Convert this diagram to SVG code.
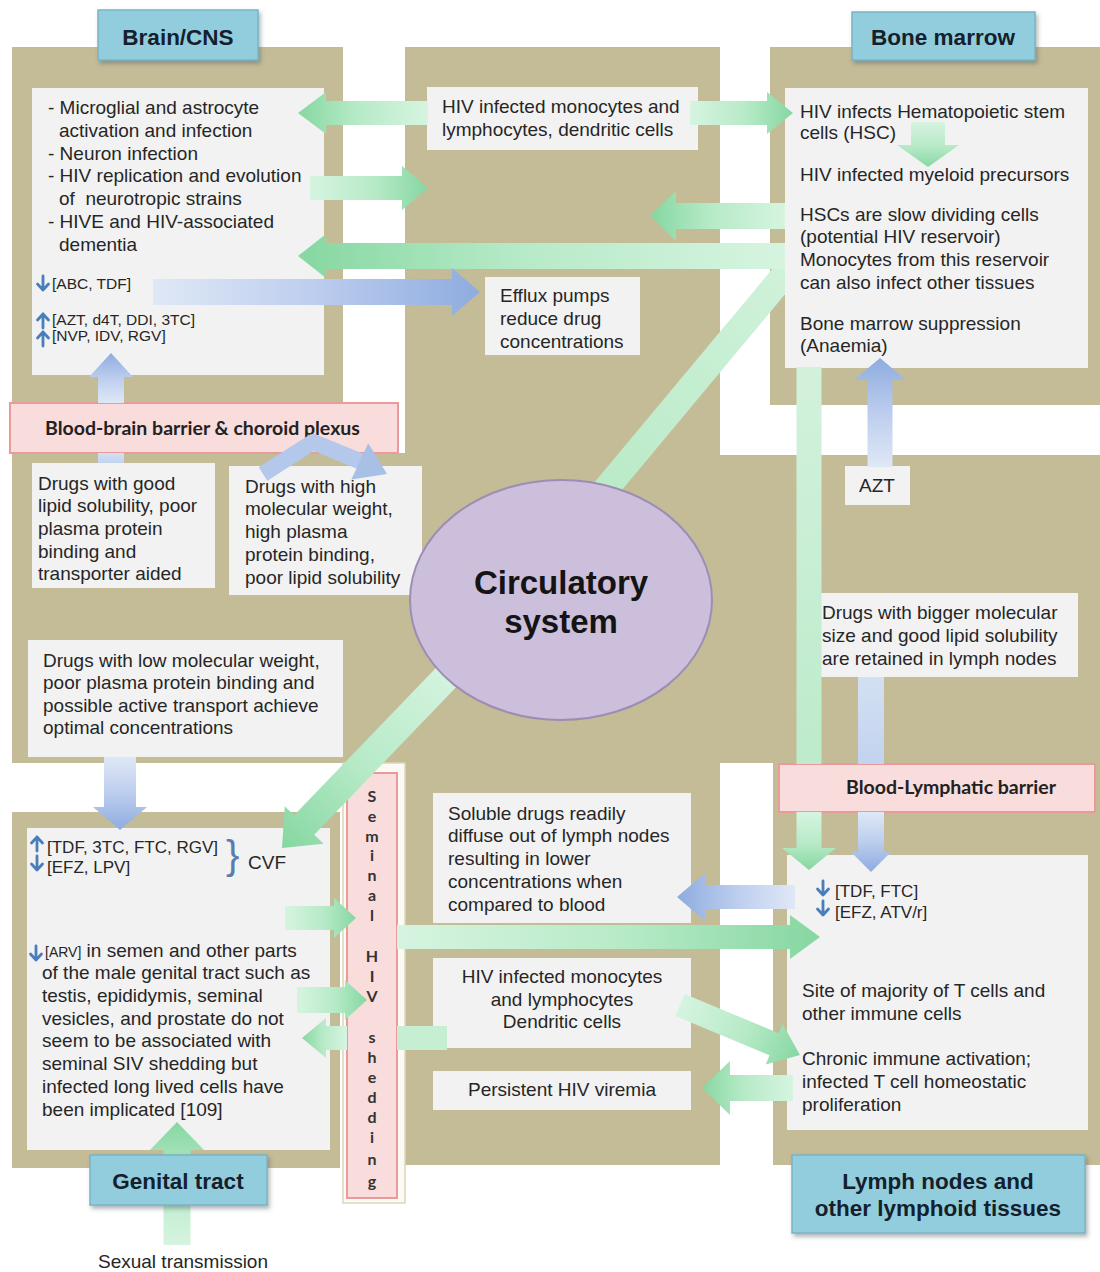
<svg xmlns="http://www.w3.org/2000/svg" width="1100" height="1272" viewBox="0 0 1100 1272">
<defs>
<style>
.panel{fill:#c4bc96}
.box{fill:#f2f2f2}
.t{font-family:"Liberation Sans",Arial,sans-serif;font-size:19px;fill:#262626}
.ts{font-size:15.5px}
.tm{font-size:17px}
.tc{text-anchor:middle}
.lblr{fill:#92cddd;stroke:#78b4c6;stroke-width:1.5;filter:url(#sh)}
.lt{font-family:"Liberation Sans",Arial,sans-serif;font-weight:bold;font-size:22.5px;fill:#14202b;text-anchor:middle}
.bar{fill:#f9dcdc;stroke:#ea9a9a;stroke-width:2}
.bt{font-family:Lato,"Open Sans",sans-serif;font-weight:bold;font-size:19.5px;fill:#222}
.st{font-family:Lato,"Open Sans",sans-serif;font-weight:bold;font-size:16px;fill:#333;text-anchor:middle}
.ga{fill:url(#gG)}
.ba{fill:url(#gB)}
.gv{fill:url(#gGv)}
.bv{fill:url(#gBv)}
.ico{fill:none;stroke:#4a7ebb;stroke-width:2.8;stroke-linecap:round;stroke-linejoin:round}
</style>
<filter id="sh" x="-10%" y="-10%" width="125%" height="140%"><feDropShadow dx="2" dy="3" stdDeviation="2" flood-color="#4a5a60" flood-opacity="0.45"/></filter>
<linearGradient id="gG" x1="0" y1="0" x2="1" y2="0"><stop offset="0" stop-color="#d6f4e0"/><stop offset="0.55" stop-color="#b6eac7"/><stop offset="1" stop-color="#86d7a1"/></linearGradient>
<linearGradient id="gB" x1="0" y1="0" x2="1" y2="0"><stop offset="0" stop-color="#dfe8f6"/><stop offset="0.5" stop-color="#bccdee"/><stop offset="1" stop-color="#8eacdf"/></linearGradient>
<linearGradient id="gGv" x1="0" y1="0" x2="0" y2="1"><stop offset="0" stop-color="#d2f1dc"/><stop offset="1" stop-color="#bdebcb"/></linearGradient>
<linearGradient id="gBv" x1="0" y1="0" x2="0" y2="1"><stop offset="0" stop-color="#d3e0f3"/><stop offset="1" stop-color="#c3d3ee"/></linearGradient>
<linearGradient id="g6" x1="0" y1="1" x2="1" y2="0"><stop offset="0" stop-color="#b5e9c4"/><stop offset="1" stop-color="#d0f2da"/></linearGradient>
<path id="icoDown" class="ico" d="M7,1 V15 M1.5,9 L7,15 L12.5,9"/>
<path id="icoUp" class="ico" d="M7,15 V1 M1.5,7 L7,1 L12.5,7"/>
</defs>
<rect width="1100" height="1272" fill="#ffffff"/>
<g id="panels">
<path class="panel" d="M12,47 H343 V453 H405 V47 H720 V455 H1100 V763 H720 V1165 H405 V763 H12 Z"/>
<rect class="panel" x="770" y="47" width="330" height="358"/>
<rect class="panel" x="773" y="763" width="327" height="402"/>
<rect class="panel" x="12" y="812" width="328" height="356"/>
<rect x="343" y="763" width="62" height="440" fill="#fbfaf5" stroke="#ddd6b8" stroke-width="1.5"/>
</g>
<g id="brain">
<rect class="box" x="32" y="88" width="292" height="287"/>
<text class="t" x="48" y="114">- Microglial and astrocyte</text>
<text class="t" x="59" y="137">activation and infection</text>
<text class="t" x="48" y="160">- Neuron infection</text>
<text class="t" x="48" y="182">- HIV replication and evolution</text>
<text class="t" x="59" y="205">of&#160; neurotropic strains</text>
<text class="t" x="48" y="228">- HIVE and HIV-associated</text>
<text class="t" x="59" y="251">dementia</text>
<use href="#icoDown" x="36" y="275"/>
<text class="t ts" x="52" y="289">[ABC, TDF]</text>
<use href="#icoUp" x="36" y="313"/>
<text class="t ts" x="52" y="325">[AZT, d4T, DDI, 3TC]</text>
<use href="#icoUp" x="36" y="331"/>
<text class="t ts" x="52" y="341">[NVP, IDV, RGV]</text>
</g>
<g id="bone-marrow">
<rect class="box" x="785" y="88" width="303" height="280"/>
<text class="t" x="800" y="118">HIV infects Hematopoietic stem</text>
<text class="t" x="800" y="139">cells (HSC)</text>
<text class="t" x="800" y="181">HIV infected myeloid precursors</text>
<text class="t" x="800" y="221">HSCs are slow dividing cells</text>
<text class="t" x="800" y="243">(potential HIV reservoir)</text>
<text class="t" x="800" y="266">Monocytes from this reservoir</text>
<text class="t" x="800" y="289">can also infect other tissues</text>
<text class="t" x="800" y="330">Bone marrow suppression</text>
<text class="t" x="800" y="352">(Anaemia)</text>
</g>
<g id="infected-cells-top">
<rect class="box" x="427" y="87" width="271" height="63"/>
<text class="t" x="442" y="113">HIV infected monocytes and</text>
<text class="t" x="442" y="136">lymphocytes, dendritic cells</text>
</g>
<g id="efflux">
<rect class="box" x="485" y="277" width="155" height="78"/>
<text class="t" x="500" y="302">Efflux pumps</text>
<text class="t" x="500" y="325">reduce drug</text>
<text class="t" x="500" y="348">concentrations</text>
</g>
<g id="drugs-good-lipid">
<rect class="box" x="32" y="463" width="183" height="125"/>
<text class="t" x="38" y="490">Drugs with good</text>
<text class="t" x="38" y="512">lipid solubility, poor</text>
<text class="t" x="38" y="535">plasma protein</text>
<text class="t" x="38" y="558">binding and</text>
<text class="t" x="38" y="580">transporter aided</text>
</g>
<g id="drugs-high-mw">
<rect class="box" x="229" y="466" width="193" height="129"/>
<text class="t" x="245" y="493">Drugs with high</text>
<text class="t" x="245" y="515">molecular weight,</text>
<text class="t" x="245" y="538">high plasma</text>
<text class="t" x="245" y="561">protein binding,</text>
<text class="t" x="245" y="584">poor lipid solubility</text>
</g>
<g id="drugs-low-mw">
<rect class="box" x="28" y="640" width="315" height="117"/>
<text class="t" x="43" y="667">Drugs with low molecular weight,</text>
<text class="t" x="43" y="689">poor plasma protein binding and</text>
<text class="t" x="43" y="712">possible active transport achieve</text>
<text class="t" x="43" y="734">optimal concentrations</text>
</g>
<g id="genital">
<rect class="box" x="27" y="828" width="303" height="322"/>
<use href="#icoUp" x="30" y="836"/>
<text class="t tm" x="47" y="853">[TDF, 3TC, FTC, RGV]</text>
<use href="#icoDown" x="30" y="855"/>
<text class="t tm" x="47" y="873">[EFZ, LPV]</text>
<text x="226" y="869" font-family="Liberation Sans, Arial, sans-serif" font-size="40" fill="#5a7cae">}</text>
<text class="t" x="248" y="869">CVF</text>
<use href="#icoDown" x="29" y="945"/>
<text class="t" x="45" y="957"><tspan font-size="14">[ARV]</tspan> in semen and other parts</text>
<text class="t" x="42" y="979">of the male genital tract such as</text>
<text class="t" x="42" y="1002">testis, epididymis, seminal</text>
<text class="t" x="42" y="1025">vesicles, and prostate do not</text>
<text class="t" x="42" y="1047">seem to be associated with</text>
<text class="t" x="42" y="1070">seminal SIV shedding but</text>
<text class="t" x="42" y="1093">infected long lived cells have</text>
<text class="t" x="42" y="1116">been implicated [109]</text>
</g>
<g id="soluble-drugs">
<rect class="box" x="433" y="793" width="258" height="130"/>
<text class="t" x="448" y="820">Soluble drugs readily</text>
<text class="t" x="448" y="842">diffuse out of lymph nodes</text>
<text class="t" x="448" y="865">resulting in lower</text>
<text class="t" x="448" y="888">concentrations when</text>
<text class="t" x="448" y="911">compared to blood</text>
</g>
<g id="infected-cells-bottom">
<rect class="box" x="433" y="958" width="258" height="90"/>
<text class="t tc" x="562" y="983">HIV infected monocytes</text>
<text class="t tc" x="562" y="1006">and lymphocytes</text>
<text class="t tc" x="562" y="1028">Dendritic cells</text>
</g>
<g id="viremia">
<rect class="box" x="433" y="1071" width="258" height="39"/>
<text class="t tc" x="562" y="1096">Persistent HIV viremia</text>
</g>
<g id="lymph">
<rect class="box" x="787" y="855" width="301" height="275"/>
<use href="#icoDown" x="816" y="880"/>
<text class="t tm" x="835" y="897">[TDF, FTC]</text>
<use href="#icoDown" x="816" y="900"/>
<text class="t tm" x="835" y="918">[EFZ, ATV/r]</text>
<text class="t" x="802" y="997">Site of majority of T cells and</text>
<text class="t" x="802" y="1020">other immune cells</text>
<text class="t" x="802" y="1065">Chronic immune activation;</text>
<text class="t" x="802" y="1088">infected T cell homeostatic</text>
<text class="t" x="802" y="1111">proliferation</text>
</g>
<g id="azt">
<rect class="box" x="845" y="466" width="65" height="39"/>
<text class="t tc" x="877" y="492">AZT</text>
</g>
<g id="drugs-bigger">
<rect class="box" x="818" y="593" width="260" height="84"/>
<text class="t" x="822" y="619">Drugs with bigger molecular</text>
<text class="t" x="822" y="642">size and good lipid solubility</text>
<text class="t" x="822" y="665">are retained in lymph nodes</text>
</g>
<g id="bbb">
<rect class="bar" x="10" y="403" width="388" height="50"/>
<text class="bt" x="45" y="435">Blood-brain barrier &amp; choroid plexus</text>
</g>
<g id="blb">
<rect class="bar" x="779" y="764" width="316" height="48"/>
<text class="bt" x="846" y="794">Blood-Lymphatic barrier</text>
</g>
<g id="seminal">
<rect class="bar" x="347" y="773" width="50" height="425"/>
<text class="st"><tspan x="372" y="802">S</tspan><tspan x="372" y="822">e</tspan><tspan x="372" y="842">m</tspan><tspan x="372" y="861">i</tspan><tspan x="372" y="881">n</tspan><tspan x="372" y="901">a</tspan><tspan x="372" y="921">l</tspan><tspan x="372" y="962">H</tspan><tspan x="372" y="982">I</tspan><tspan x="372" y="1002">V</tspan><tspan x="372" y="1043">s</tspan><tspan x="372" y="1063">h</tspan><tspan x="372" y="1083">e</tspan><tspan x="372" y="1103">d</tspan><tspan x="372" y="1123">d</tspan><tspan x="372" y="1143">i</tspan><tspan x="372" y="1165">n</tspan><tspan x="372" y="1187">g</tspan></text>
</g>
<g id="connectors">
<polygon fill="url(#g6)" points="560,523.7 785,253.7 785,294.3 580,540.3"/>
<polygon class="ga" points="-250,-14 -32,-14 -32,-27 0,0 -32,27 -32,14 -250,14" transform="translate(282,848) rotate(133.9)"/>
<polygon class="ga" points="-130,-12 -28,-12 -28,-21 0,0 -28,21 -28,12 -130,12" transform="translate(298,113) rotate(180)"/>
<polygon class="ga" points="-103,-12 -26,-12 -26,-21 0,0 -26,21 -26,12 -103,12" transform="translate(793,113)"/>
<polygon class="ga" points="-118,-12 -26,-12 -26,-22 0,0 -26,22 -26,12 -118,12" transform="translate(428,188)"/>
<polygon class="ga" points="-135,-13 -26,-13 -26,-25 0,0 -26,25 -26,13 -135,13" transform="translate(650,216) rotate(180)"/>
<polygon class="ga" points="-487,-13 -28,-13 -28,-22 0,0 -28,22 -28,13 -487,13" transform="translate(298,256) rotate(180)"/>
<polygon class="ga" points="-45,-17 -22,-17 -22,-31 0,0 -22,31 -22,17 -45,17" transform="translate(928,167) rotate(90)"/>
<rect class="gv" x="796.5" y="367" width="25" height="397"/>
<polygon class="ga" points="-58,-12.5 -22,-12.5 -22,-27 0,0 -22,27 -22,12.5 -58,12.5" transform="translate(809,870) rotate(90)"/>
<polygon class="ga" points="-71,-12 -22,-12 -22,-20 0,0 -22,20 -22,12 -71,12" transform="translate(356,918)"/>
<polygon class="ga" points="-423,-12 -30,-12 -30,-22 0,0 -30,22 -30,12 -423,12" transform="translate(820,937)"/>
<polygon class="ga" points="-70,-13 -22,-13 -22,-20 0,0 -22,20 -22,13 -70,13" transform="translate(367,1000)"/>
<rect x="397" y="1026" width="50" height="24" fill="#c6eed3"/>
<polygon class="ga" points="-45,-12 -24,-12 -24,-20 0,0 -24,20 -24,12 -45,12" transform="translate(302,1038) rotate(180)"/>
<polygon class="ga" points="-130,-12 -28,-12 -28,-22 0,0 -28,22 -28,12 -130,12" transform="translate(800,1055) rotate(22.6)"/>
<polygon class="ga" points="-91,-13 -28,-13 -28,-27 0,0 -28,27 -28,13 -91,13" transform="translate(702,1088) rotate(180)"/>
<polygon class="ga" points="-123,-13.5 -28,-13.5 -28,-27 0,0 -28,27 -28,13.5 -123,13.5" transform="translate(177,1122) rotate(-90)"/>
<polygon class="ba" points="-50,-13 -24,-13 -24,-22 0,0 -24,22 -24,13 -50,13" transform="translate(111,353) rotate(-90)"/>
<rect class="bv" x="98" y="453" width="26" height="10"/>
<polygon class="ba" points="-327,-13 -28,-13 -28,-24 0,0 -28,24 -28,13 -327,13" transform="translate(480,292)"/>
<polygon class="ba" points="-109,-12.5 -22,-12.5 -22,-26 0,0 -22,26 -22,12.5 -109,12.5" transform="translate(880,358) rotate(-90)"/>
<rect class="bv" x="858" y="677" width="26" height="87"/>
<polygon class="ba" points="-60,-13 -20,-13 -20,-20 0,0 -20,20 -20,13 -60,13" transform="translate(871,872) rotate(90)"/>
<polygon class="ba" points="-118,-12 -28,-12 -28,-24 0,0 -28,24 -28,12 -118,12" transform="translate(677,897) rotate(180)"/>
<polygon class="ba" points="-73,-16 -23,-16 -23,-27 0,0 -23,27 -23,16 -73,16" transform="translate(120,830) rotate(90)"/>
<path d="M263,474 L313,442 L362,462" fill="none" stroke="#b3c8ea" stroke-width="16" stroke-linejoin="round"/>
<polygon fill="#a9c0e6" points="-30,-20 0,0 -30,20" transform="translate(387,474) rotate(25)"/>
</g>
<g id="circulatory">
<ellipse cx="561" cy="600" rx="151" ry="120" fill="#cbbfdc" stroke="#9c8db5" stroke-width="2"/>
<text x="561" y="594" font-family="Liberation Sans, Arial, sans-serif" font-weight="bold" font-size="33" fill="#141414" text-anchor="middle">Circulatory</text>
<text x="561" y="633" font-family="Liberation Sans, Arial, sans-serif" font-weight="bold" font-size="33" fill="#141414" text-anchor="middle">system</text>
</g>
<g id="label-brain">
<rect class="lblr" x="98" y="10" width="160" height="50"/>
<text class="lt" x="178" y="45">Brain/CNS</text>
</g>
<g id="label-bone">
<rect class="lblr" x="852" y="12" width="183" height="48"/>
<text class="lt" x="943" y="45">Bone marrow</text>
</g>
<g id="label-genital">
<rect class="lblr" x="90" y="1155" width="177" height="50"/>
<text class="lt" x="178" y="1189">Genital tract</text>
</g>
<g id="label-lymph">
<rect class="lblr" x="792" y="1155" width="293" height="78"/>
<text class="lt" x="938" y="1189">Lymph nodes and</text>
<text class="lt" x="938" y="1216">other lymphoid tissues</text>
</g>
<g id="sexual-transmission">
<text class="t tc" x="183" y="1268">Sexual transmission</text>
</g>
</svg>
